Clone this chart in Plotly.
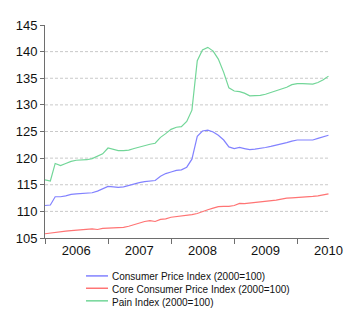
import pandas as pd
import plotly.graph_objects as go

# Monthly observations, January 2006 through July 2010
months = pd.date_range("2006-01-01", "2010-07-01", freq="MS")

cpi = [
    111.1, 111.2, 112.75, 112.75, 112.9, 113.2, 113.3, 113.4, 113.4, 113.5, 113.8, 114.2,
    114.7, 114.6, 114.5, 114.6, 114.9, 115.1, 115.4, 115.6, 115.7, 115.8, 116.6, 117.1,
    117.4, 117.7, 117.8, 118.3, 119.8, 124.1, 125.1, 125.25, 124.9, 124.3, 123.4, 122.1,
    121.8, 122.0, 121.8, 121.6, 121.7, 121.8, 122.0, 122.2, 122.4, 122.7, 122.9, 123.2,
    123.4, 123.4, 123.4, 123.4, 123.7, 124.0, 124.3,
]

core_cpi = [
    105.8, 105.95, 106.1, 106.2, 106.3, 106.4, 106.5, 106.55, 106.6, 106.7, 106.6, 106.8,
    106.85, 106.9, 106.95, 107.0, 107.2, 107.5, 107.9, 108.1, 108.25, 108.1, 108.5, 108.6,
    108.9, 109.0, 109.1, 109.3, 109.4, 109.6, 110.0, 110.3, 110.6, 110.9, 110.95, 110.95,
    111.1, 111.5, 111.45, 111.55, 111.7, 111.8, 111.9, 112.0, 112.1, 112.3, 112.5, 112.55,
    112.6, 112.6, 112.7, 112.8, 112.9, 113.1, 113.3,
]

pain = [
    115.9, 115.7, 119.0, 118.6, 119.0, 119.4, 119.6, 119.6, 119.7, 119.9, 120.3, 120.8,
    121.9, 121.7, 121.4, 121.4, 121.5, 121.8, 122.1, 122.3, 122.6, 122.8, 123.9, 124.6,
    125.4, 125.8, 125.9, 126.9, 129.0, 138.3, 140.3, 140.8, 140.1, 138.6, 136.1, 133.2,
    132.6, 132.5, 132.2, 131.7, 131.7, 131.8, 132.0, 132.3, 132.6, 132.9, 133.3, 133.8,
    134.0, 134.0, 133.9, 133.9, 134.2, 134.7, 135.4,
]

series_names = [
    "Consumer Price Index (2000=100)",
    "Core Consumer Price Index (2000=100)",
    "Pain Index (2000=100)",
]
series_colors = ["#8282ff", "#ff7474", "#72d698"]
series_values = [cpi, core_cpi, pain]

year_labels = ["2006", "2007", "2008", "2009", "2010"]
year_mid = [f"{y}-07-01" for y in year_labels]

y_ticks = [105, 110, 115, 120, 125, 130, 135, 140, 145]
grid_levels = [110, 115, 120, 125, 130, 135, 140]

FONT = "Liberation Sans, Arial, sans-serif"
AXIS_COLOR = "#6e6e6e"
TEXT_COLOR = "#111111"

fig = go.Figure()
for name, color, vals in zip(series_names, series_colors, series_values):
    fig.add_trace(go.Scatter(
        x=months, y=vals, mode="lines", name=name,
        line=dict(color=color, width=1.2),
        showlegend=False,
    ))

# Dashed horizontal guides between the axis ends
for level in grid_levels:
    fig.add_shape(
        type="line", xref="paper", yref="y", x0=0, x1=1, y0=level, y1=level,
        line=dict(color="#c9c9c9", width=1, dash="3px,2px"), layer="below",
    )

# Key below the plot: short coloured stroke followed by the series name
key_line_y = [-0.178, -0.236, -0.295]
key_text_y = [-0.1817, -0.2408, -0.3005]
for name, color, ly, ty in zip(series_names, series_colors, key_line_y, key_text_y):
    fig.add_shape(
        type="line", xref="paper", yref="paper",
        x0=0.1444, x1=0.2218, y0=ly, y1=ly,
        line=dict(color=color, width=1.5),
    )
    fig.add_annotation(
        xref="paper", yref="paper", x=0.2289, y=ty,
        xanchor="left", yanchor="middle", showarrow=False,
        text=name, font=dict(family=FONT, size=10, color=TEXT_COLOR),
    )

fig.update_layout(
    width=360, height=330,
    margin=dict(l=45, r=31, t=25, b=92),
    paper_bgcolor="white", plot_bgcolor="white",
    font=dict(family=FONT, color=TEXT_COLOR),
    showlegend=False,
    xaxis=dict(
        type="date",
        range=["2006-01-01", "2010-07-04"],
        tickvals=year_mid, ticktext=year_labels,
        ticks="", showgrid=False, zeroline=False,
        showline=True, linecolor=AXIS_COLOR, linewidth=1,
        tickfont=dict(family=FONT, size=13, color=TEXT_COLOR),
        minor=dict(ticks="outside", dtick="M12", tick0="2006-01-01",
                   ticklen=5, tickcolor=AXIS_COLOR, showgrid=False),
    ),
    yaxis=dict(
        range=[105, 145],
        tickvals=y_ticks,
        ticks="outside", ticklen=4, tickcolor=AXIS_COLOR,
        showline=True, linecolor=AXIS_COLOR, linewidth=1,
        showgrid=False, zeroline=False,
        tickfont=dict(family=FONT, size=13, color=TEXT_COLOR),
    ),
)

fig.write_html("out.html")
